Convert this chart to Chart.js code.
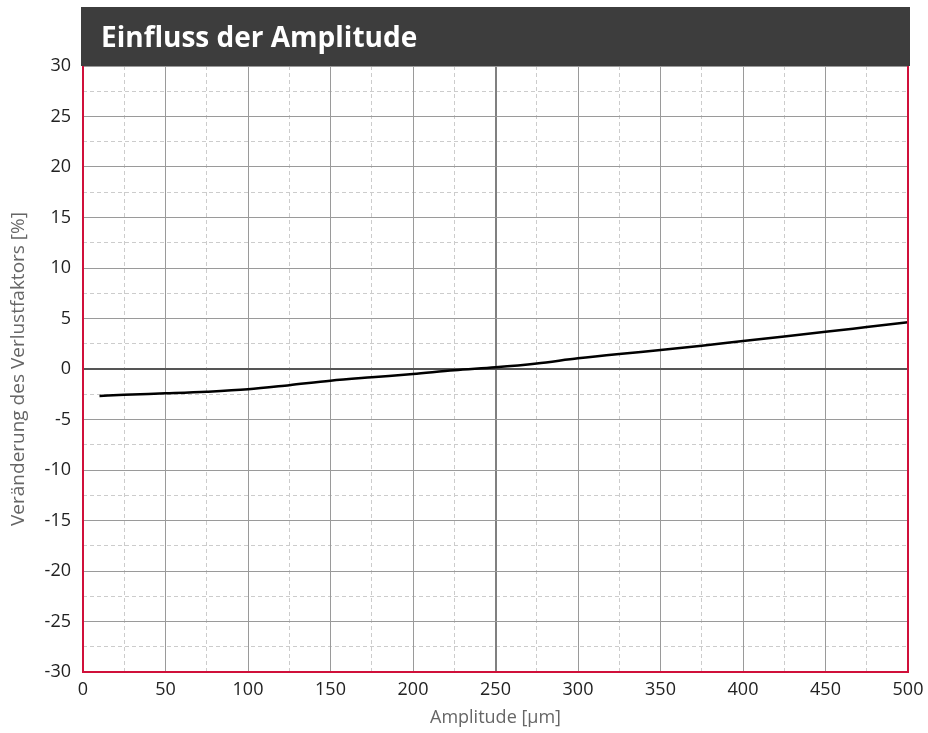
<!DOCTYPE html>
<html>
<head>
<meta charset="utf-8">
<script src="https://cdn.jsdelivr.net/npm/chart.js@4/dist/chart.umd.min.js"></script>
<style>
  html, body { margin: 0; padding: 0; background: #fff; }
  #wrap { width: 928px; height: 733px; }
</style>
</head>
<body>
<div id="wrap"><canvas id="chart"></canvas></div>
<script>
// Amplitude [µm] und Veränderung des Verlustfaktors [%]
const amplitude = [10, 25, 50, 75, 100, 125, 150, 175, 200, 225, 250, 275, 300, 325, 350, 375, 400, 425, 450, 475, 500];
const veraenderung = [-2.67, -2.55, -2.41, -2.25, -2.01, -1.6, -1.16, -0.82, -0.5, -0.12, 0.17, 0.55, 1.06, 1.49, 1.88, 2.3, 2.77, 3.22, 3.68, 4.15, 4.62];

const xRange = [0, 500];
const yRange = [-30, 30];
const xMajor = 50, xMinor = 25;
const yMajor = 5, yMinor = 2.5;

const chartTitle = 'Einfluss der Amplitude';
const xTitle = 'Amplitude [µm]';
const yTitle = 'Veränderung des Verlustfaktors [%]';

const red = '#d0103a';

const titleBar = {
  id: 'titleBar',
  beforeDraw(chart) {
    const { ctx, chartArea } = chart;
    ctx.save();
    ctx.fillStyle = '#3d3d3d';
    ctx.fillRect(chartArea.left - 2, 7, chartArea.right - chartArea.left + 4, chartArea.top - 7);
    ctx.fillStyle = '#fff';
    ctx.font = 'bold 28px "Open Sans"';
    ctx.textBaseline = 'alphabetic';
    ctx.fillText(chartTitle, chartArea.left + 18, 47);
    ctx.restore();
  },
  afterDatasetsDraw(chart) {
    const { ctx, chartArea } = chart;
    ctx.save();
    ctx.strokeStyle = red;
    ctx.lineWidth = 2;
    ctx.beginPath();
    ctx.moveTo(chartArea.left, chartArea.top);
    ctx.lineTo(chartArea.left, chartArea.bottom);
    ctx.lineTo(chartArea.right, chartArea.bottom);
    ctx.lineTo(chartArea.right, chartArea.top);
    ctx.stroke();
    ctx.restore();
  }
};

new Chart(document.getElementById('chart'), {
  type: 'line',
  data: {
    datasets: [{
      data: amplitude.map((a, i) => ({ x: a, y: veraenderung[i] })),
      borderColor: '#000',
      borderWidth: 2.5,
      pointRadius: 0,
      cubicInterpolationMode: 'monotone',
      xAxisID: 'x',
      yAxisID: 'y'
    }]
  },
  options: {
    responsive: true,
    maintainAspectRatio: false,
    animation: false,
    layout: { padding: { top: 66, right: 20, left: 0, bottom: 0 } },
    plugins: { legend: { display: false }, tooltip: { enabled: false } },
    scales: {
      xMin: {
        type: 'linear', position: 'bottom', min: xRange[0], max: xRange[1],
        ticks: { display: false, stepSize: xMinor },
        grid: { drawTicks: false, color: c => c.tick.value % xMajor === 0 ? 'rgba(0,0,0,0)' : '#cccccc', lineWidth: 1 },
        border: { display: false, dash: [4, 3] },
        afterFit: s => { s.height = 0; s.paddingLeft = 0; s.paddingRight = 0; }
      },
      yMin: {
        type: 'linear', position: 'left', min: yRange[0], max: yRange[1],
        ticks: { display: false, stepSize: yMinor },
        grid: { drawTicks: false, color: c => c.tick.value % yMajor === 0 ? 'rgba(0,0,0,0)' : '#cccccc', lineWidth: 1 },
        border: { display: false, dash: [4, 3] },
        afterFit: s => { s.width = 0; s.paddingTop = 0; s.paddingBottom = 0; }
      },
      x: {
        type: 'linear', position: 'bottom', min: xRange[0], max: xRange[1],
        ticks: { stepSize: xMajor, color: '#222', font: { family: 'Open Sans', size: 18 }, padding: 7, maxRotation: 0 },
        grid: {
          drawTicks: false,
          color: c => c.tick.value === 250 ? '#808080' : '#9a9a9a',
          lineWidth: c => c.tick.value === 250 ? 2 : 1
        },
        border: { display: false },
        title: { display: true, text: xTitle, color: '#666', font: { family: 'Open Sans', size: 18 }, padding: { top: 3 } },
        afterFit: s => { s.height = 61; s.paddingLeft = 0; s.paddingRight = 0; }
      },
      y: {
        type: 'linear', position: 'left', min: yRange[0], max: yRange[1],
        ticks: { stepSize: yMajor, color: '#222', font: { family: 'Open Sans', size: 18 }, padding: 12 },
        grid: {
          drawTicks: false,
          color: c => c.tick.value === 0 ? '#555' : '#9a9a9a',
          lineWidth: c => c.tick.value === 0 ? 2 : 1
        },
        border: { display: false },
        title: { display: true, text: yTitle, color: '#666', font: { family: 'Open Sans', size: 19 }, padding: { top: 7 } },
        afterFit: s => { s.width = 83; s.paddingTop = 0; s.paddingBottom = 0; }
      }
    }
  },
  plugins: [titleBar]
});
</script>
</body>
</html>
